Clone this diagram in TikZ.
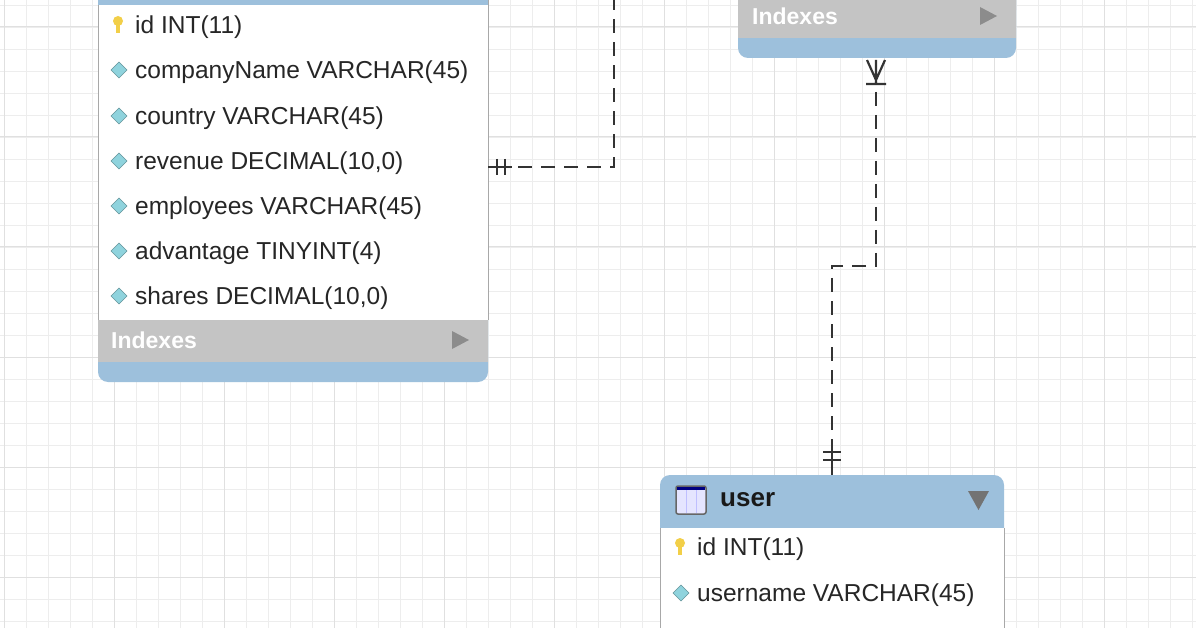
\documentclass[tikz,border=0pt]{standalone}
\usepackage{fontspec}
\setmainfont{Liberation Sans}
\usetikzlibrary{shapes.geometric}
\definecolor{hdr}{HTML}{9DC0DC}
\definecolor{idx}{HTML}{C4C4C4}
\definecolor{gridc}{HTML}{EDEDED}
\definecolor{gridM}{HTML}{E0E0E0}
\definecolor{border}{HTML}{A8A8A8}
\definecolor{keyc}{HTML}{F2CF48}
\definecolor{dia}{HTML}{8FD3DD}
\tikzset{
 rowt/.style={anchor=west,font=\fontsize{24.5}{24.5}\selectfont,text=black!85,inner sep=0},
 conn/.style={line width=2.4pt,black!80,dash pattern=on 14pt off 9pt},
 tick/.style={line width=2.2pt,black!80},
 idxt/.style={anchor=west,font=\bfseries\fontsize{23}{23}\selectfont,text=white,inner sep=0},
}
\newcommand{\keyic}[1]{\fill[keyc] (#1) ++(0,-6) circle (5) ; \fill[keyc] (#1) ++(-2,-5) rectangle ++(4,11);}
\newcommand{\diaic}[1]{\fill[dia,draw=dia!70!black,line width=0.4pt] (#1) ++(-8,-2) -- ++(8,-8) -- ++(8,8) -- ++(-8,8) -- cycle;}
\begin{document}
\begin{tikzpicture}[x=1pt,y=-1pt]
\useasboundingbox (0,0) rectangle (1196,628);
\fill[white] (0,0) rectangle (1196,628);
\foreach \i in {0,...,55} \draw[gridc,line width=0.8pt] (\i*22+4,0) -- (\i*22+4,628);
\foreach \i in {0,...,29} \draw[gridc,line width=0.8pt] (0,\i*22+5) -- (1196,\i*22+5);
\foreach \i in {0,...,11} \draw[gridM,line width=1pt] (\i*110+4,0) -- (\i*110+4,628);
\foreach \i in {0,...,6} \draw[gridM,line width=1pt] (0,\i*110+5+22) -- (1196,\i*110+5+22);
% left table
\fill[hdr,rounded corners=10pt] (98,300) rectangle (488,382);
\fill[idx] (98,320) rectangle (488,362);
\fill[white] (98,-10) rectangle (488,320);
\draw[border,line width=1pt] (98,-10) -- (98,320) (488,-10) -- (488,320);
\fill[hdr] (98,-10) rectangle (488,5);
\node[idxt] (li) at (111,340) {Indexes};
\fill[black!45] (452,331) -- (469,340) -- (452,349) -- cycle;
\coordinate (k1) at (118,27); \keyic{k1}
\node[rowt] (l1) at (135,27) {id INT(11)};
\foreach \y/\t/\n in {72/companyName VARCHAR(45)/l2,118/country VARCHAR(45)/l3,163/revenue DECIMAL(10{,}0)/l4,208/employees VARCHAR(45)/l5,253/advantage TINYINT(4)/l6,298/shares DECIMAL(10{,}0)/l7}{
 \coordinate (d\n) at (119,\y); \diaic{d\n}
 \node[rowt] (\n) at (135,\y) {\t};}
% top-right table
\fill[hdr,rounded corners=10pt] (738,-20) rectangle (1016,58);
\fill[idx] (738,-5) rectangle (1016,38);
\fill[idx,rounded corners=10pt] (738,-20) rectangle (1016,20);
\node[idxt] (ri) at (752,16) {Indexes};
\fill[black!45] (980,7) -- (997,16) -- (980,25) -- cycle;
% user table
\fill[hdr,rounded corners=10pt] (660,475) rectangle (1004,540);
\fill[hdr] (660,510) rectangle (1004,528);
\fill[white] (660,528) rectangle (1004,640);
\draw[border,line width=1pt] (660,528) -- (660,640) (1004,528) -- (1004,640);
\draw[black!60,line width=1.5pt,fill=blue!10,rounded corners=2pt] (676,486) rectangle (706,514);
\draw[blue!50!black,line width=3pt] (677,488) -- (705,488);
\draw[blue!25,line width=0.6pt] (686,490) -- (686,513) (696,490) -- (696,513);
\node[anchor=west,font=\bfseries\fontsize{26}{26}\selectfont,text=black!90,inner sep=0] (ut) at (720,500) {user};
\fill[black!55] (968,491) -- (989,491) -- (978.5,510) -- cycle;
\coordinate (k2) at (680,549); \keyic{k2}
\node[rowt] (u1) at (697,549) {id INT(11)};
\coordinate (du2) at (681,595); \diaic{du2}
\node[rowt] (u2) at (697,595) {username VARCHAR(45)};
% connectors
\coordinate (a0) at (488,167);
\coordinate (a1) at (614,167);
\coordinate (a2) at (614,0);
\draw[conn] (518,167) -- (a1) -- (a2);
\draw[tick] (a0) -- (512,167) (497,159) -- (497,175) (505,159) -- (505,175);
\coordinate (b0) at (876,58);
\coordinate (b1) at (876,266);
\coordinate (b2) at (832,266);
\coordinate (b3) at (832,475);
\draw[tick] (867,60) -- (876,80) -- (885,60) (876,60) -- (876,84) (866,84) -- (886,84);
\draw[conn] (876,92) -- (b1) -- (b2) -- (832,445);
\draw[tick] (832,445) -- (b3) (823,452) -- (841,452) (823,460) -- (841,460);
\end{tikzpicture}
\end{document}
